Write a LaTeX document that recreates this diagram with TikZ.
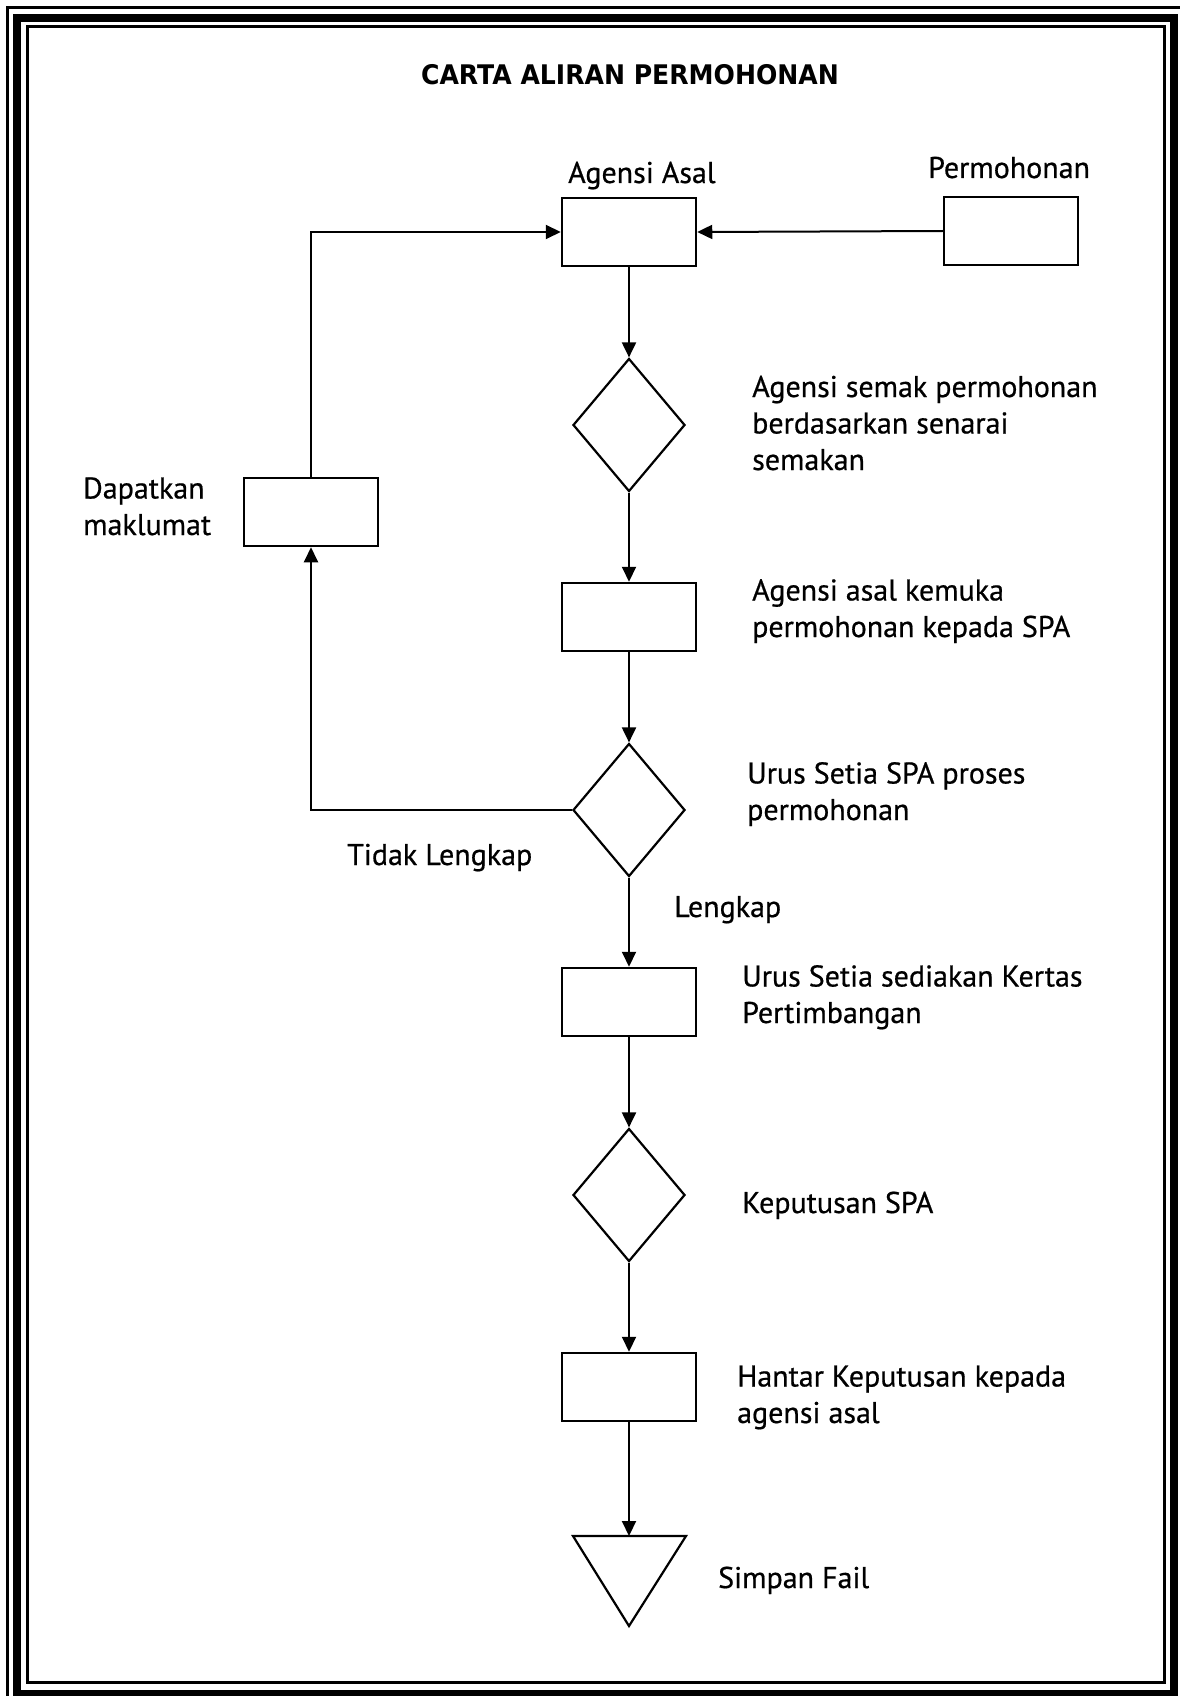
\documentclass[tikz,border=0pt]{standalone}
\usepackage{fontspec}
\setmainfont[FakeBold=0.6]{PT Sans}
\newfontfamily\titlefont[FakeStretch=0.93]{DejaVu Sans}
\usetikzlibrary{arrows.meta,shapes.geometric}
\begin{document}
\begin{tikzpicture}[x=1pt,y=-1pt,
  box/.style={draw,line width=2.5pt,minimum width=134pt,minimum height=68pt,inner sep=0pt},
  dia/.style={draw,diamond,line width=2.2pt,minimum width=112pt,minimum height=133pt,inner sep=0pt},
  lbl/.style={anchor=base west,inner sep=0pt,align=left,font=\fontsize{30}{36.5}\selectfont},
  arr/.style={line width=2pt,-{Triangle[length=15pt,width=14pt]}},
  frame/.style={draw,line width=#1}]
\useasboundingbox (0,0) rectangle (1180,1696);
% border
\draw[line width=3pt] (7.5,1696) -- (7.5,8) -- (1180,8);
\draw[frame=8pt] (17,18) rectangle (1173.5,1693.5);
\draw[frame=3pt] (27,27) rectangle (1164,1682);
% title
\node[anchor=base,inner sep=0pt,font=\titlefont\bfseries\fontsize{27}{30}\selectfont] (title) at (630,85) {CARTA ALIRAN PERMOHONAN};
% nodes
\node[box] (agensi) at (629,232) {};
\node[box] (perm) at (1011,231) {};
\node[dia] (d1) at (629,425) {};
\node[box] (b2) at (629,617) {};
\node[dia] (d2) at (629,810) {};
\node[box] (b3) at (629,1002) {};
\node[dia] (d3) at (629,1195) {};
\node[box] (b4) at (629,1387) {};
\node[box] (dap) at (311,512) {};
\coordinate (tri) at (629,1536);
\draw[line width=2.2pt,line join=miter] (573,1536) -- (686,1536) -- (629,1626) -- cycle;
% connectors
\draw[arr] (perm.west) -- (agensi.east);
\draw[arr] (agensi.south) -- (d1.north);
\draw[arr] (d1.south) -- (b2.north);
\draw[arr] (b2.south) -- (d2.north);
\draw[arr] (d2.south) -- (b3.north);
\draw[arr] (b3.south) -- (d3.north);
\draw[arr] (d3.south) -- (b4.north);
\draw[arr] (b4.south) -- (tri);
\draw[arr] (d2.west) -| (dap.south);
\draw[arr] (dap.north) |- (agensi.west);
% labels (anchor = baseline of the last line)
\node[lbl] (lAgensi) at (568,183) {Agensi Asal};
\node[lbl] (lPerm) at (928,178) {Permohonan};
\node[lbl] (l1) at (752,470) {Agensi semak permohonan\\berdasarkan senarai\\semakan};
\node[lbl] (lDap) at (83,535) {Dapatkan\\maklumat};
\node[lbl] (l2) at (752,637) {Agensi asal kemuka\\permohonan kepada SPA};
\node[lbl] (l3) at (747,820) {Urus Setia SPA proses\\permohonan};
\node[lbl] (lTidak) at (347,865) {Tidak Lengkap};
\node[lbl] (lLeng) at (674,917) {Lengkap};
\node[lbl] (l4) at (742,1023) {Urus Setia sediakan Kertas\\Pertimbangan};
\node[lbl] (l5) at (742,1213) {Keputusan SPA};
\node[lbl] (l6) at (737,1423) {Hantar Keputusan kepada\\agensi asal};
\node[lbl] (l7) at (718,1588) {Simpan Fail};
\end{tikzpicture}
\end{document}
